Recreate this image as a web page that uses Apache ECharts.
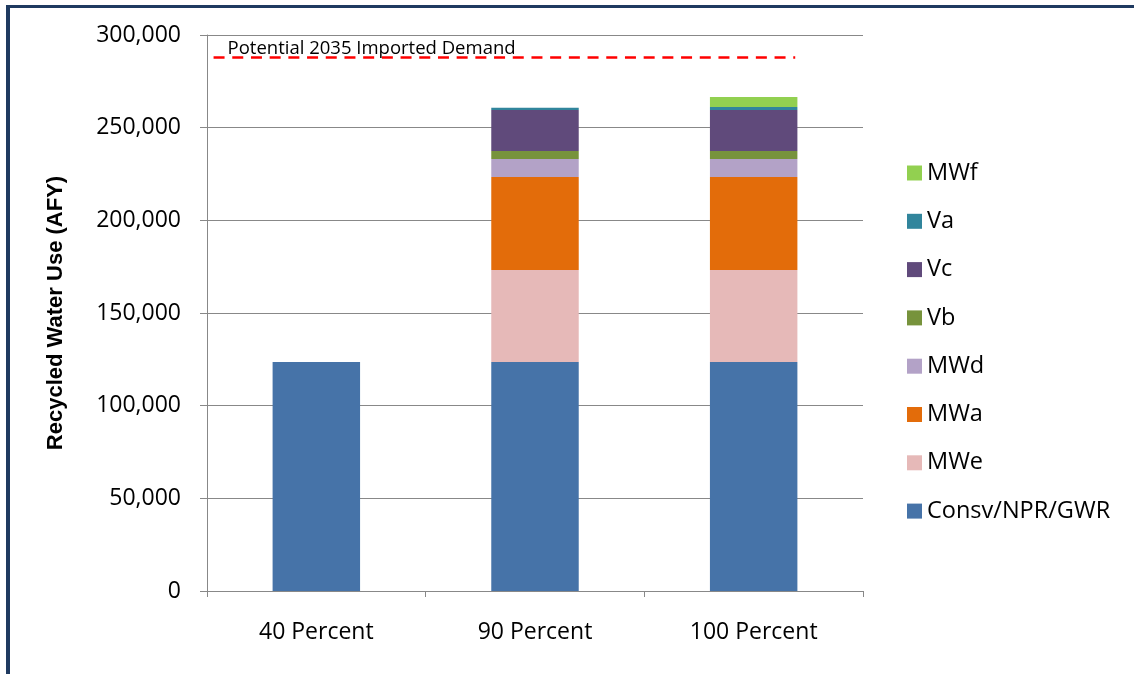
<!DOCTYPE html>
<html>
<head>
<meta charset="utf-8">
<title>Recycled Water Use</title>
<script src="https://cdn.jsdelivr.net/npm/echarts@6/dist/echarts.min.js"></script>
<style>
  html, body { margin: 0; padding: 0; background: #ffffff; }
  #chart { width: 1134px; height: 674px; }
</style>
</head>
<body>
<div id="chart"></div>
<script>
// Scenario categories
const categories = ['40 Percent', '90 Percent', '100 Percent'];

// Stacked components (AFY), bottom to top
const consvNprGwr = [123500, 123500, 123500];
const mwe = [null, 49700, 49700];
const mwa = [null, 50200, 50200];
const mwd = [null, 9700, 9700];
const vb  = [null, 4300, 4300];
const vc  = [null, 22100, 22100];
const va  = [null, 1200, 1600];
const mwf = [null, null, 5400];

// Reference level for imported demand
const importedDemand = 288000;
const demandLabel = 'Potential 2035 Imported Demand';

// Y axis ticks
const yMin = 0, yMax = 300000, yStep = 50000;

const stackSeries = [
  { name: 'Consv/NPR/GWR', data: consvNprGwr, color: '#4673A8' },
  { name: 'MWe', data: mwe, color: '#E6B9B8' },
  { name: 'MWa', data: mwa, color: '#E36C0A' },
  { name: 'MWd', data: mwd, color: '#B3A2C7' },
  { name: 'Vb',  data: vb,  color: '#77933C' },
  { name: 'Vc',  data: vc,  color: '#604A7B' },
  { name: 'Va',  data: va,  color: '#31859C' },
  { name: 'MWf', data: mwf, color: '#92D050' }
];

const gridColor = '#888888';
const frameColor = '#1F3A60';

const chart = echarts.init(document.getElementById('chart'), null, { renderer: 'canvas' });

const option = {
  backgroundColor: '#ffffff',
  animation: false,
  graphic: [
    { type: 'rect', shape: { x: 6, y: 5, width: 4, height: 669 }, style: { fill: frameColor }, z: 100 },
    { type: 'rect', shape: { x: 6, y: 5, width: 1128, height: 3 }, style: { fill: frameColor }, z: 100 }
  ],
  grid: { left: 207, right: 271, top: 35, bottom: 83 },
  legend: {
    orient: 'vertical',
    left: 902,
    top: 156,
    itemWidth: 15,
    itemHeight: 15,
    itemGap: 24.3,
    icon: 'rect',
    textStyle: { fontFamily: 'Open Sans', fontSize: 23.5, lineHeight: 24, color: '#000000' },
    data: stackSeries.map(s => s.name).reverse()
  },
  xAxis: [
    {
      type: 'category',
      data: categories,
      axisLine: { lineStyle: { color: gridColor, width: 1 } },
      axisTick: { show: true, length: 6, lineStyle: { color: gridColor } },
      axisLabel: { margin: 30, fontFamily: 'Open Sans', fontSize: 23, color: '#000000' }
    },
    { type: 'value', min: 0, max: 3, show: false }
  ],
  yAxis: {
    type: 'value',
    min: yMin,
    max: yMax,
    interval: yStep,
    name: 'Recycled Water Use (AFY)',
    nameLocation: 'middle',
    nameGap: 140,
    nameTextStyle: { fontFamily: 'Liberation Sans', fontWeight: 'bold', fontSize: 22, color: '#000000' },
    axisLine: { show: true, lineStyle: { color: gridColor, width: 1 } },
    axisTick: { show: true, length: 7, lineStyle: { color: gridColor } },
    axisLabel: {
      margin: 26,
      fontFamily: 'Open Sans',
      fontSize: 23,
      color: '#000000',
      formatter: v => v.toLocaleString('en-US')
    },
    splitLine: { show: true, lineStyle: { color: gridColor, width: 1 } }
  },
  series: stackSeries.map(s => ({
    name: s.name,
    type: 'bar',
    stack: 'use',
    barWidth: '40%',
    data: s.data,
    itemStyle: { color: s.color },
    emphasis: { disabled: true }
  })).concat([{
    name: demandLabel,
    type: 'line',
    xAxisIndex: 1,
    data: [],
    silent: true,
    markLine: {
      symbol: ['none', 'none'],
      silent: true,
      lineStyle: { color: '#FF0000', width: 2.6, type: [11, 7.7] },
      label: {
        show: true,
        position: 'insideStartTop',
        distance: [14, -1],
        formatter: demandLabel,
        fontFamily: 'Open Sans',
        fontSize: 18.5,
        color: '#000000'
      },
      data: [[
        { coord: [0.03, importedDemand] },
        { coord: [2.69, importedDemand] }
      ]]
    }
  }])
};

chart.setOption(option);
</script>
</body>
</html>
